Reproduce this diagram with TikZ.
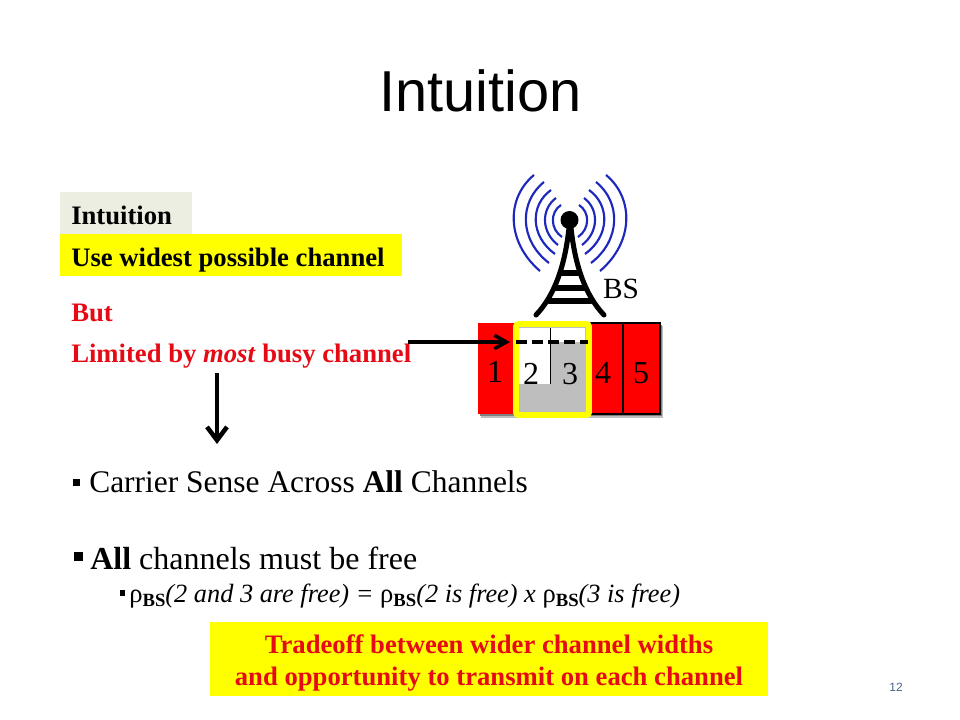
\documentclass[tikz,border=0pt]{standalone}
\usepackage{fontspec}
\setmainfont{Liberation Serif}
\newfontfamily\arialf{Liberation Sans}
\usetikzlibrary{arrows.meta}
\definecolor{redt}{RGB}{230,10,20}
\definecolor{chred}{RGB}{255,0,0}
\definecolor{ygold}{RGB}{255,255,0}
\definecolor{pale}{RGB}{235,238,224}
\definecolor{wave}{RGB}{30,40,190}
\definecolor{gra}{RGB}{190,190,190}
\definecolor{pnum}{RGB}{70,100,140}
\newcommand{\rhoBS}{{\upshape\mdseries\fontsize{20}{20}\selectfont ρ}\raisebox{-0.3ex}{\fontsize{14}{14}\selectfont\upshape\bfseries BS}}
\tikzset{
 lbl/.style={anchor=base west,inner sep=0pt,font=\fontsize{20}{20}\selectfont\bfseries},
 num/.style={inner sep=0pt,font=\fontsize{24}{24}\selectfont},
 ch/.style={draw=black,line width=0.8pt,fill=chred},
 wv/.style={draw=wave,line width=1.6pt},
 tw/.style={draw=black,line width=3.8pt,line cap=round},
 arrh/.style={draw=black,line width=2.6pt,-{Straight Barb[length=9pt,width=10pt,line width=2.6pt]}},
 arrv/.style={draw=black,line width=3.4pt,-{Straight Barb[length=10pt,width=15pt,line width=3.4pt]}}
}
\begin{document}
\begin{tikzpicture}[x=0.75pt,y=-0.75pt]
\useasboundingbox (0,0) rectangle (960,720);
\fill[white] (0,0) rectangle (960,720);
\node (title) at (480.5,91) [inner sep=0pt,font=\arialf\fontsize{43.3}{43.3}\selectfont] {Intuition};
% left boxes
\fill[pale] (60,192) rectangle (192,234);
\fill[ygold] (60,234) rectangle (402,276);
\node[lbl] (t1) at (71,224.7) {Intuition};
\node[lbl] (t2) at (71,267) {Use widest possible channel};
\node[lbl,text=redt] (t3) at (71,321) {But};
\node[lbl,text=redt] (t4) at (71,362.7) {Limited by \textit{most} busy channel};
% tower
\fill[black] (569.5,220) circle (9);
\draw[tw] (569,228) .. controls (565,265) and (555,295) .. (536,315);
\draw[tw] (571,228) .. controls (575,265) and (585,295) .. (604,315);
\draw[tw] (562,273) -- (578,273);
\draw[tw] (555,288) -- (585,288);
\draw[tw] (549,301) -- (591,301);
% waves
\foreach \s in {1,-1}{
 \begin{scope}[shift={(570,220)},xscale=\s]
  \draw[wv] (-9,-15) .. controls (-20,-8) and (-20,9) .. (-8,17);
  \draw[wv] (-14,-22) .. controls (-29,-11) and (-29,12) .. (-12,25);
  \draw[wv] (-19,-30) .. controls (-40,-15) and (-40,16) .. (-15,34);
  \draw[wv] (-26,-38) .. controls (-51,-18) and (-51,20) .. (-21,43);
  \draw[wv] (-36,-45) .. controls (-64,-22) and (-64,22) .. (-30,51);
 \end{scope}
}
\node[inner sep=0pt,font=\fontsize{22}{22}\selectfont] (bs) at (621,289) {BS};
% channels
\fill[black!25] (481,326) rectangle (663,418);
\fill[black!50] (480,325) rectangle (662,416);
\fill[chred] (478,323) rectangle (516,414);
\draw[ch] (590,323) rectangle (623,414);
\draw[ch] (623,323) rectangle (660,414);
\fill[gra] (516,325) rectangle (590,414);
\fill[white] (519,328) rectangle (550,384);
\fill[white] (550,328) rectangle (585,342);
\draw[black,line width=0.6pt] (550,328) -- (550,384);
\draw[draw=ygold,line width=4.4pt,rounded corners=2pt] (516,324) rectangle (589,415);
\node[num] (n1) at (495,372) {1};
\node[num] (n2) at (531,374) {2};
\node[num] (n3) at (570,374) {3};
\node[num] (n4) at (603,373) {4};
\node[num] (n5) at (641,373) {5};
\coordinate (dl) at (516,342);
\coordinate (dr) at (588,342);
\draw[black,line width=2.6pt,dash pattern=on 8pt off 4pt] (dl) -- (dr);
% arrows
\coordinate (aS) at (408,342);
\coordinate (aE) at (510,342);
\draw[arrh] (aS) -- (aE);
\coordinate (dS) at (217,373);
\coordinate (dE) at (217,444);
\draw[arrv] (dS) -- (dE);
% bullets
\fill[black] (73,479) rectangle (80,486);
\node[anchor=base west,inner sep=0pt,font=\fontsize{23.6}{23.6}\selectfont] (b1) at (89,492) {Carrier Sense Across \textbf{All} Channels};
\fill[black] (74,552) rectangle (83,561);
\node[anchor=base west,inner sep=0pt,font=\fontsize{24}{24}\selectfont] (b2) at (90,569) {\textbf{All} channels must be free};
\fill[black] (120,590) rectangle (125,596);
\node[anchor=base west,inner sep=0pt,font=\fontsize{19.75}{19.75}\selectfont\itshape] (b3) at (129,602.5) {\rhoBS(2 and 3 are free) = \rhoBS(2 is free) x \rhoBS(3 is free)};
% bottom box
\fill[ygold] (210,622) rectangle (768,696);
\node[align=center,inner sep=0pt,text=redt,font=\fontsize{20}{24}\selectfont\bfseries] (tr) at (489,663) {Tradeoff between wider channel widths\\and opportunity to transmit on each channel};
\node[inner sep=0pt,text=pnum,font=\arialf\fontsize{9}{9}\selectfont] (pg) at (896,687) {12};
\end{tikzpicture}
\end{document}
